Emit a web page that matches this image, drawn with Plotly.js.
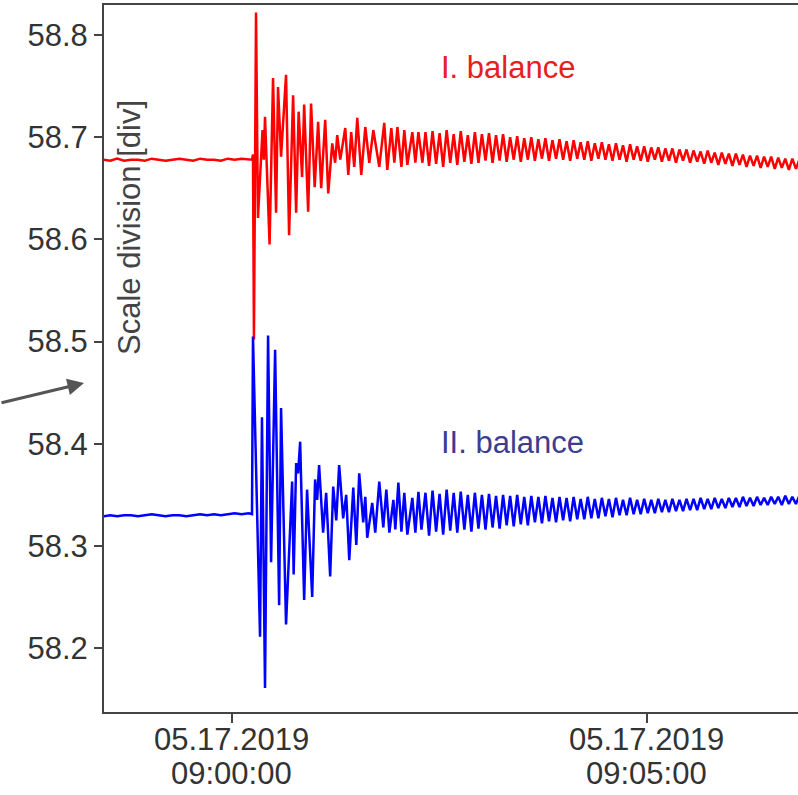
<!DOCTYPE html>
<html>
<head>
<meta charset="utf-8">
<script src="https://cdn.plot.ly/plotly-3.0.1.min.js"></script>
<style>html,body{margin:0;padding:0;background:#fff;overflow:hidden}#chart{width:798px;height:795px}</style>
</head>
<body>
<div id="chart"></div>
<script>
// Time in seconds relative to 05.17.2019 09:00:00
const tPre = [-93,-88,-83,-78,-73,-68,-63,-58,-53,-48,-43,-38,-33,-28,-23,-18,-13,-8,-3,2,7,12];
const redPre = [58.678,58.677,58.679,58.677,58.678,58.678,58.677,58.679,58.678,58.677,58.678,58.679,58.678,58.677,58.679,58.678,58.678,58.677,58.679,58.678,58.679,58.678];
const bluePre = [58.329,58.330,58.329,58.330,58.330,58.329,58.330,58.331,58.330,58.329,58.330,58.330,58.329,58.330,58.331,58.330,58.331,58.330,58.331,58.332,58.331,58.332];

const tRedEvent = [14.5,15.2,15.9,17.4,18.8,22.1,23.0,23.9,27.2,29.7,31.9,33.3,35.5,39.1,41.3,44.2,46.4,48.2,50.7,52.2,55.1,57.2,59.8,62.3,64.5,67.4,69.6,72.5,74.6,76.1,78.3,81.9,84.1,86.2,88.4,90.6,93.5,96.4,99.3,102.2,106.5,110.1,112.3,115.2,117.4,119.6,122.5,124.6,126.8,130.4,132.6,134.8,137.7,139.9];
const redEvent = [58.678,58.683,58.502,58.822,58.621,58.707,58.678,58.720,58.595,58.758,58.626,58.749,58.681,58.761,58.604,58.741,58.626,58.725,58.661,58.732,58.627,58.733,58.651,58.715,58.650,58.717,58.645,58.694,58.675,58.702,58.678,58.709,58.663,58.705,58.671,58.719,58.663,58.710,58.675,58.707,58.671,58.714,58.668,58.709,58.675,58.710,58.671,58.707,58.673,58.705,58.675,58.705,58.675,58.705];

const tBlueEvent = [14.5,15.2,20.3,21.7,23.9,26.1,28.3,31.2,34.1,35.5,39.1,42.0,43.5,44.6,46.4,47.8,49.3,52.2,54.3,58.0,60.1,61.6,63.0,65.9,68.1,71.0,73.2,75.4,77.5,80.4,82.6,84.8,87.7,89.9,92.0,94.9,96.4,97.8,101.4,103.6,106.5,109.4,111.6,113.8,116.7,118.1,120.3,122.5,124.6,126.8,130.4,132.6,134.8,137.0,139.9];
const blueEvent = [58.331,58.505,58.211,58.426,58.161,58.506,58.284,58.492,58.242,58.435,58.223,58.316,58.363,58.272,58.381,58.371,58.402,58.247,58.355,58.250,58.365,58.345,58.379,58.313,58.352,58.270,58.358,58.325,58.379,58.327,58.350,58.286,58.357,58.301,58.371,58.323,58.348,58.308,58.342,58.313,58.363,58.318,58.355,58.313,58.345,58.316,58.362,58.314,58.352,58.311,58.347,58.313,58.353,58.316,58.352];

const tLate = [142.5,145.0,147.6,150.1,152.7,155.2,157.8,160.3,162.9,165.4,168.0,170.5,173.1,175.6,178.2,180.7,183.3,185.8,188.4,190.9,
193.5,196.0,198.6,201.1,203.7,206.2,208.8,211.3,213.9,216.4,219.0,221.5,224.1,226.6,229.2,231.7,234.3,236.8,239.4,241.9,
244.5,247.0,249.6,252.1,254.7,257.2,259.8,262.3,264.9,267.4,270.0,272.5,275.1,277.6,280.2,282.7,285.3,287.8,290.4,292.9,
295.5,298.0,300.6,303.1,305.7,308.2,310.8,313.3,315.9,318.4,321.0,323.5,326.1,328.6,331.2,333.7,336.3,338.8,341.4,343.9,
346.5,349.0,351.6,354.1,356.7,359.2,361.8,364.3,366.9,369.4,372.0,374.5,377.1,379.6,382.2,384.7,387.3,389.8,392.4,394.9,
397.5,400.0,402.6,405.1,407.7,410.2];
const redLate = [58.672,58.706,58.674,58.704,58.671,58.707,58.675,58.703,58.673,58.706,58.676,58.702,58.674,58.705,58.675,58.703,58.677,58.704,58.675,58.702,
58.677,58.703,58.676,58.700,58.678,58.701,58.676,58.699,58.678,58.700,58.677,58.698,58.679,58.699,58.677,58.697,58.679,58.698,58.678,58.696,
58.677,58.697,58.679,58.695,58.678,58.696,58.677,58.694,58.679,58.695,58.678,58.693,58.677,58.694,58.678,58.692,58.676,58.693,58.678,58.691,
58.677,58.691,58.676,58.690,58.678,58.690,58.676,58.689,58.677,58.689,58.675,58.688,58.677,58.688,58.675,58.687,58.676,58.686,58.674,58.687,
58.675,58.685,58.673,58.685,58.674,58.684,58.672,58.684,58.673,58.683,58.671,58.682,58.672,58.682,58.670,58.681,58.671,58.681,58.669,58.680,
58.670,58.679,58.668,58.679,58.669,58.678];
const blueLate = [58.310,58.354,58.314,58.351,58.311,58.355,58.315,58.352,58.313,58.353,58.316,58.350,58.314,58.352,58.317,58.350,58.316,58.351,58.318,58.349,
58.317,58.350,58.320,58.349,58.319,58.350,58.321,58.348,58.320,58.349,58.323,58.348,58.322,58.349,58.324,58.347,58.323,58.348,58.325,58.347,
58.324,58.348,58.326,58.346,58.326,58.348,58.327,58.346,58.327,58.347,58.329,58.346,58.328,58.347,58.330,58.345,58.330,58.347,58.331,58.345,
58.331,58.346,58.332,58.345,58.332,58.346,58.333,58.345,58.333,58.346,58.334,58.345,58.334,58.346,58.335,58.346,58.335,58.347,58.336,58.346,
58.336,58.347,58.337,58.346,58.337,58.347,58.338,58.347,58.338,58.348,58.339,58.347,58.339,58.348,58.340,58.347,58.340,58.348,58.341,58.348,
58.340,58.349,58.341,58.348,58.341,58.349];

const seriesNames = ['I. balance', 'II. balance'];
const xTickSeconds = [0, 300];
const xTickDates = ['05.17.2019', '05.17.2019'];
const xTickTimes = ['09:00:00', '09:05:00'];
const yTicks = [58.2, 58.3, 58.4, 58.5, 58.6, 58.7, 58.8];
const yTitle = 'Scale division [div]';

const base = Date.UTC(2019, 4, 17, 9, 0, 0);
const toDate = s => new Date(base + s * 1000).toISOString().replace('T', ' ').replace('Z', '');

const redT = tPre.concat(tRedEvent, tLate).map(toDate);
const redV = redPre.concat(redEvent, redLate);
const blueT = tPre.concat(tBlueEvent, tLate).map(toDate);
const blueV = bluePre.concat(blueEvent, blueLate);

const font = 'Liberation Sans, Arial, sans-serif';
const fs = 31;

const traces = [
  {x: redT, y: redV, type: 'scatter', mode: 'lines', name: seriesNames[0], line: {color: '#ff0000', width: 2.5}},
  {x: blueT, y: blueV, type: 'scatter', mode: 'lines', name: seriesNames[1], line: {color: '#0000ff', width: 2.5}}
];

const annotations = [
  {xref: 'paper', yref: 'paper', x: 0.0375, y: 0.6846, text: yTitle, textangle: -90, showarrow: false,
   font: {family: font, size: fs, color: '#444'}, xanchor: 'center', yanchor: 'middle'},
  {xref: 'paper', yref: 'paper', x: 0.5821, y: 0.9109, text: seriesNames[0], showarrow: false,
   font: {family: font, size: fs, color: '#e62020'}, xanchor: 'center', yanchor: 'middle'},
  {xref: 'paper', yref: 'paper', x: 0.5879, y: 0.3805, text: seriesNames[1], showarrow: false,
   font: {family: font, size: fs, color: '#3d3d8f'}, xanchor: 'center', yanchor: 'middle'},
  {xref: 'paper', yref: 'paper', x: -0.0288, y: 0.4653, text: '', showarrow: true,
   ax: -86, ay: 20, arrowhead: 2, arrowsize: 1.1, arrowwidth: 3, arrowcolor: '#555'}
];
xTickSeconds.forEach((s, i) => {
  annotations.push({xref: 'x', yref: 'paper', x: toDate(s), y: -0.0396, text: xTickDates[i], showarrow: false,
    font: {family: font, size: fs, color: '#333'}, xanchor: 'center', yanchor: 'middle'});
  annotations.push({xref: 'x', yref: 'paper', x: toDate(s), y: -0.0863, text: xTickTimes[i], showarrow: false,
    font: {family: font, size: fs, color: '#333'}, xanchor: 'center', yanchor: 'middle'});
});

const layout = {
  width: 798, height: 795,
  margin: {l: 104, r: 0, t: 5, b: 83},
  paper_bgcolor: '#fff', plot_bgcolor: '#fff',
  showlegend: false,
  font: {family: font, size: fs, color: '#333'},
  xaxis: {
    type: 'date',
    range: [toDate(-92.5), toDate(409.2)],
    tickvals: xTickSeconds.map(toDate), ticktext: ['', ''],
    ticks: 'outside', ticklen: 9, tickwidth: 2, tickcolor: '#444',
    showline: true, linecolor: '#444', linewidth: 2, mirror: true,
    showgrid: false, zeroline: false,
    tickfont: {family: font, size: fs, color: '#333'}
  },
  yaxis: {
    range: [58.1374, 58.8294],
    tickvals: yTicks, tickformat: '.1f',
    ticks: 'outside', ticklen: 8, tickwidth: 2, tickcolor: '#444',
    showline: true, linecolor: '#444', linewidth: 2,
    showgrid: false, zeroline: false,
    tickfont: {family: font, size: fs, color: '#333'}
  },
  annotations: annotations
};

Plotly.newPlot('chart', traces, layout, {displayModeBar: false, staticPlot: true});
</script>
</body>
</html>
